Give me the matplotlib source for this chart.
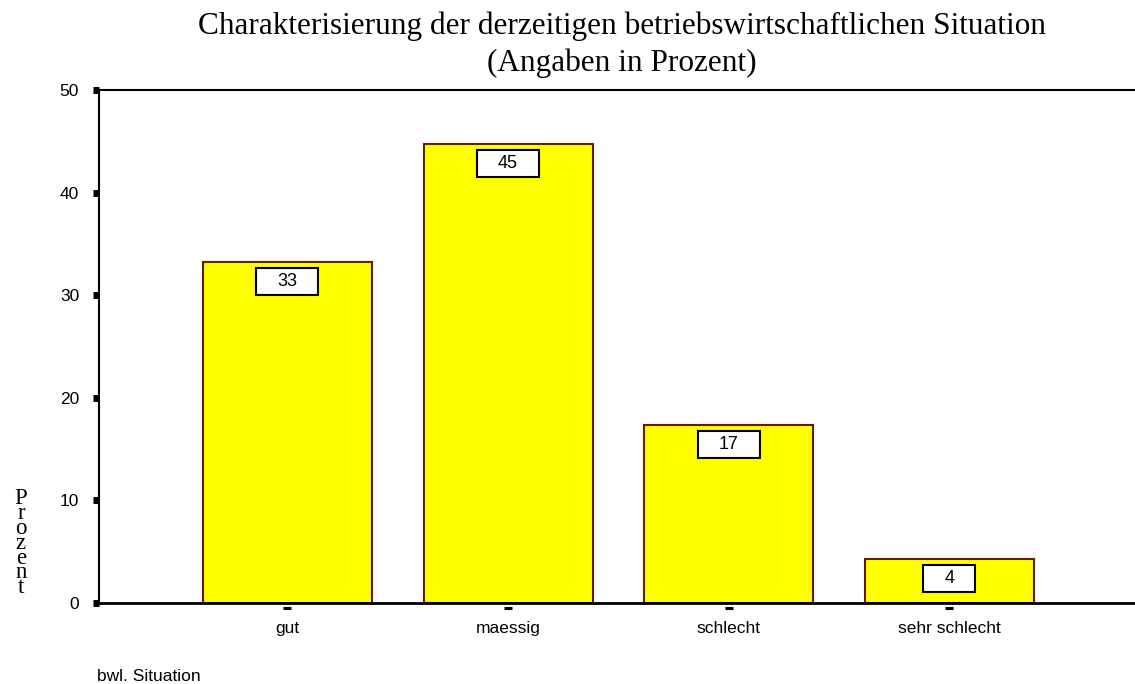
import numpy as np
import matplotlib.pyplot as plt
from matplotlib.patches import Rectangle
from matplotlib.transforms import offset_copy, IdentityTransform

# bwl. Situation - Angaben in Prozent
categories = ["gut", "maessig", "schlecht", "sehr schlecht"]
values = [33.25, 44.75, 17.35, 4.3]
labels = ["33", "45", "17", "4"]
yticks = [0, 10, 20, 30, 40, 50]

plt.rcParams['font.family'] = ['Liberation Sans', 'DejaVu Sans']

fig = plt.figure(figsize=(11.35, 6.84), dpi=100)
ax = fig.add_axes([0.0872, 0.1184, 0.9128, 0.75])

x = np.arange(len(categories))
ax.bar(x, values, width=0.766, color='#ffff00', edgecolor='#661818', linewidth=1.5, zorder=1)

# value labels, boxed just below each bar top
texts = []
for xi, v, lab in zip(x, values, labels):
    t = ax.annotate(lab, (xi, v), xytext=(0, -11), textcoords='offset pixels',
                    ha='center', va='top', fontsize=13, zorder=4)
    texts.append(t)

ax.set_xlim(-0.8545, 3.842)
ax.set_ylim(0, 50)
ax.set_yticks(yticks)
ax.set_yticklabels([str(t) for t in yticks], fontsize=12.5)
ax.set_xticks(x)
ax.set_xticklabels(categories, fontsize=12.5)
ax.tick_params(axis='y', direction='out', length=4.3, width=5, pad=10)
ax.tick_params(axis='x', length=0, pad=13)

# small detached tick dashes under the x axis
trans = offset_copy(ax.get_xaxis_transform(), fig=fig, y=-5, units='dots')
ax.plot(x, np.zeros(len(x)), ls='none', marker='_', ms=5.2, mew=2.2, color='black',
        transform=trans, clip_on=False)

ax.spines['left'].set_linewidth(1.5)
ax.spines['top'].set_linewidth(1.5)
ax.spines['bottom'].set_linewidth(2.0)
ax.spines['right'].set_visible(False)

fig.text(0.5476, 1 - 34 / 684, "Charakterisierung der derzeitigen betriebswirtschaftlichen Situation",
         ha='center', va='baseline', fontsize=22.5, family='Liberation Serif')
fig.text(0.5476, 1 - 71 / 684, "(Angaben in Prozent)",
         ha='center', va='baseline', fontsize=22.5, family='Liberation Serif')

fig.text(0.0185, 0.206, "P\nr\no\nz\ne\nn\nt", ha='center', va='center', fontsize=16.5,
         family='Liberation Serif', linespacing=0.62)

fig.text(0.0855, 3 / 684, "bwl. Situation", ha='left', va='baseline', fontsize=12.5)

# white boxes around the value labels
fig.canvas.draw()
renderer = fig.canvas.get_renderer()
px, py = 21, 5
for t in texts:
    bb = t.get_window_extent(renderer)
    rect = Rectangle((bb.x0 - px, bb.y0 - py), bb.width + 2 * px, bb.height + 2 * py,
                     transform=IdentityTransform(), facecolor='white', edgecolor='black',
                     linewidth=1.5, zorder=3, clip_on=False)
    ax.add_patch(rect)

fig.savefig("out.png", dpi=100)
